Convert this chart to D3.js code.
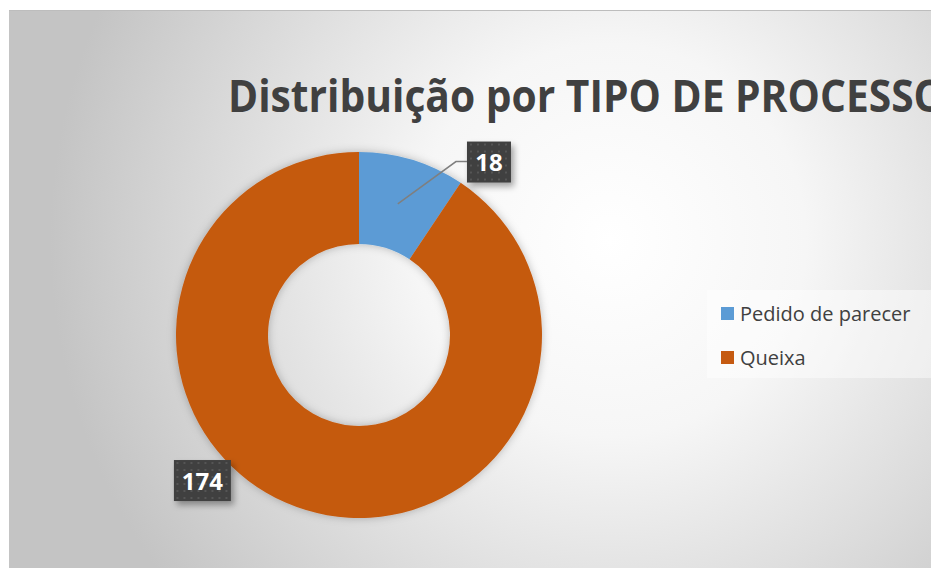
<!DOCTYPE html>
<html>
<head>
<meta charset="utf-8">
<script src="https://cdn.jsdelivr.net/npm/d3@7"></script>
<style>
  html, body { margin: 0; padding: 0; background: #fff; }
  svg { display: block; }
</style>
</head>
<body>
<div id="chart"></div>
<script>
// data
const categories = ["Pedido de parecer", "Queixa"];
const counts = [18, 174];
const colors = ["#5B9BD5", "#C55A11"];
const title = "Distribuição por TIPO DE PROCESSO";

// where excel dropped the data labels (angle from top in degrees, radius as fraction of outer)
const labelAngles = [37, 227];
const labelRadius = [1.18, 1.17];

const W = 931, H = 569;
const frame = { x: 9, y: 10 };

const svg = d3.select('#chart')
  .append('svg')
  .attr('width', W)
  .attr('height', H);

const defs = svg.append('defs');

const bg = defs.append('radialGradient')
  .attr('id', 'bg')
  .attr('gradientUnits', 'userSpaceOnUse')
  .attr('cx', 610).attr('cy', 240).attr('r', 560);
bg.append('stop').attr('offset', '0%').attr('stop-color', '#ffffff');
bg.append('stop').attr('offset', '35%').attr('stop-color', '#f6f6f6');
bg.append('stop').attr('offset', '100%').attr('stop-color', '#c4c4c4');

const dots = defs.append('pattern')
  .attr('id', 'dots')
  .attr('patternUnits', 'userSpaceOnUse')
  .attr('width', 7).attr('height', 7);
dots.append('rect').attr('width', 7).attr('height', 7).attr('fill', '#3f3f3f');
dots.append('rect').attr('x', 2).attr('y', 2).attr('width', 2).attr('height', 2).attr('fill', '#555');

const shadow = defs.append('filter').attr('id', 'shadow')
  .attr('x', '-20%').attr('y', '-20%').attr('width', '140%').attr('height', '140%');
shadow.append('feDropShadow')
  .attr('dx', 0).attr('dy', 0).attr('stdDeviation', 4)
  .attr('flood-color', '#000').attr('flood-opacity', 0.25);

const boxShadow = defs.append('filter').attr('id', 'boxShadow')
  .attr('x', '-30%').attr('y', '-30%').attr('width', '170%').attr('height', '170%');
boxShadow.append('feDropShadow')
  .attr('dx', 3).attr('dy', 4).attr('stdDeviation', 3)
  .attr('flood-color', '#000').attr('flood-opacity', 0.35);

// chart area
svg.append('rect')
  .attr('x', frame.x).attr('y', frame.y)
  .attr('width', W - frame.x).attr('height', H - frame.y - 1)
  .attr('fill', 'url(#bg)');
svg.append('line')
  .attr('x1', frame.x).attr('x2', W)
  .attr('y1', frame.y + 0.5).attr('y2', frame.y + 0.5)
  .attr('stroke', '#bdbdbd');

svg.append('text')
  .attr('x', 228)
  .attr('y', 112)
  .attr('font-family', 'Open Sans')
  .attr('font-weight', 'bold')
  .attr('font-size', 45)
  .attr('fill', '#404040')
  .attr('textLength', 718)
  .attr('lengthAdjust', 'spacingAndGlyphs')
  .text(title);

// donut
const cx = 359, cy = 335, outer = 183, inner = 91;

const pie = d3.pie().sort(null).value(d => d);
const arc = d3.arc().innerRadius(inner).outerRadius(outer);
const arcs = pie(counts);

const g = svg.append('g').attr('transform', `translate(${cx}, ${cy})`);

g.append('g')
  .attr('filter', 'url(#shadow)')
  .selectAll('path')
  .data(arcs)
  .enter()
  .append('path')
  .attr('d', arc)
  .attr('fill', (d, i) => colors[i]);

// data labels
const labels = arcs.map((d, i) => {
  const a = labelAngles[i] * Math.PI / 180;
  const r = outer * labelRadius[i];
  return { value: d.data, x: Math.sin(a) * r, y: -Math.cos(a) * r, arc: d };
});

// leader line for the small slice
const small = labels[0];
const anchor = d3.arc().innerRadius(inner).outerRadius(outer).centroid(small.arc);
const p0 = [anchor[0] - 1, anchor[1]];
const boxW0 = 44;
g.append('polyline')
  .attr('points', [p0, [small.x - boxW0 / 2 - 11, small.y - 1], [small.x - boxW0 / 2, small.y - 1]].map(p => p.join(',')).join(' '))
  .attr('fill', 'none')
  .attr('stroke', '#7f7f7f')
  .attr('stroke-width', 1.5);

const lab = g.selectAll('.lab')
  .data(labels)
  .enter()
  .append('g')
  .attr('class', 'lab')
  .attr('transform', d => `translate(${d.x}, ${d.y})`);

lab.append('rect')
  .attr('x', d => -(String(d.value).length * 13 + 18) / 2)
  .attr('y', -21)
  .attr('width', d => String(d.value).length * 13 + 18)
  .attr('height', 41)
  .attr('fill', 'url(#dots)')
  .attr('filter', 'url(#boxShadow)');

lab.append('text')
  .attr('text-anchor', 'middle')
  .attr('dy', 8.5)
  .attr('font-family', 'Open Sans')
  .attr('font-weight', 'bold')
  .attr('font-size', 24)
  .attr('fill', '#fff')
  .text(d => d.value);

// legend
const legend = svg.append('g').attr('transform', 'translate(707, 290)');
legend.append('rect')
  .attr('width', W - 707).attr('height', 88)
  .attr('fill', '#fff').attr('fill-opacity', 0.45);

const item = legend.selectAll('.item')
  .data(categories)
  .enter()
  .append('g')
  .attr('class', 'item')
  .attr('transform', (d, i) => `translate(14, ${17 + i * 44})`);

item.append('rect')
  .attr('width', 13).attr('height', 13)
  .attr('fill', (d, i) => colors[i]);

item.append('text')
  .attr('x', 19)
  .attr('y', 13.5)
  .attr('font-family', 'Open Sans')
  .attr('font-size', 20)
  .attr('fill', '#404040')
  .text(d => d);
</script>
</body>
</html>
